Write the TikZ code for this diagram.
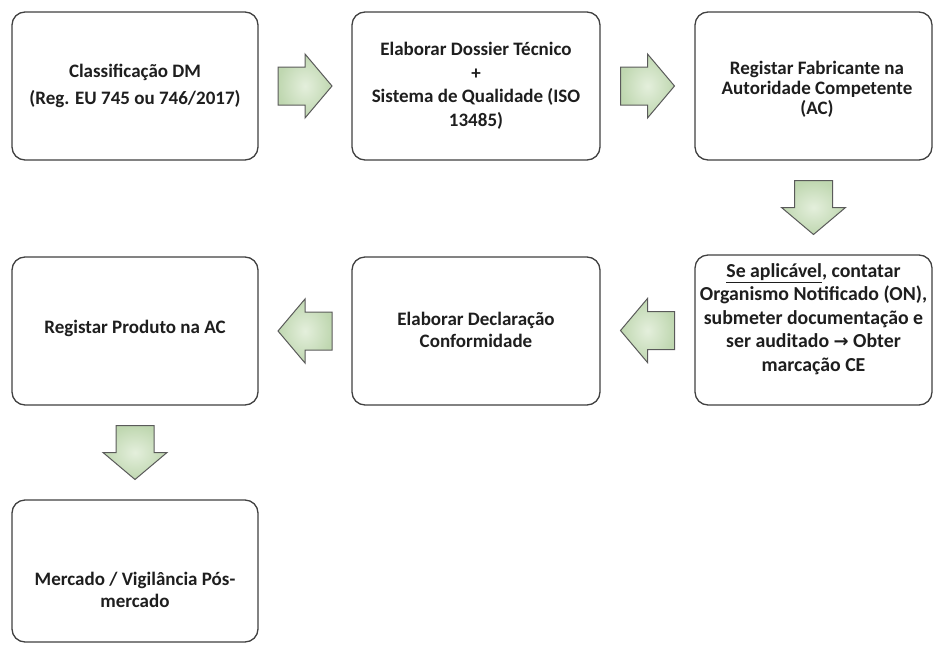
\documentclass[tikz,border=0pt]{standalone}
\usepackage{fontspec}
\setmainfont{Carlito}
\newfontfamily\symfont{DejaVu Sans}
\usetikzlibrary{calc}
\definecolor{boxline}{HTML}{404040}
\definecolor{arrline}{HTML}{5A5A5A}
\definecolor{arrfill}{HTML}{BFD7B0}
\definecolor{arrlight}{HTML}{E4EFDC}
\definecolor{txt}{HTML}{1E1E1E}
\tikzset{
  box/.style={draw=boxline, line width=1.3pt, rounded corners=13pt, fill=white, inner sep=0pt},
  lbl/.style={align=center, text=txt, font=\bfseries\fontsize{19}{23.5}\selectfont, inner sep=0pt},
  blockarrow/.pic={
    \path[draw=arrline, line width=1pt, inner color=arrlight, outer color=arrfill]
      (-27,-19) -- (0,-19) -- (0,-32) -- (27,0) -- (0,32) -- (0,19) -- (-27,19) -- cycle;
  }
}
\begin{document}
\begin{tikzpicture}[x=1pt,y=-1pt]
\useasboundingbox (0,0) rectangle (936,645);
% boxes
\node[box, minimum width=246pt, minimum height=148pt] (b1) at (135,86) {};
\node[box, minimum width=248pt, minimum height=148pt] (b2) at (476,86) {};
\node[box, minimum width=237pt, minimum height=148pt] (b3) at (813.5,86) {};
\node[box, minimum width=237pt, minimum height=150pt] (b4) at (813.5,330) {};
\node[box, minimum width=248pt, minimum height=148pt] (b5) at (476,331) {};
\node[box, minimum width=246pt, minimum height=148pt] (b6) at (135,331) {};
\node[box, minimum width=246pt, minimum height=142pt] (b7) at (135,571) {};
% texts
\node[lbl] (t1) at (135,86) {Classificação DM\\[3.5pt](Reg. EU 745 ou 746/2017)};
\node[lbl] (t2) at (476,86) {Elaborar Dossier Técnico\\+\\Sistema de Qualidade (ISO\\13485)};
\node[lbl, font=\bfseries\fontsize{19}{20}\selectfont] (t3) at (817,89) {Registar Fabricante na\\Autoridade Competente\\(AC)};
\node[lbl, font=\bfseries\fontsize{19.8}{23.5}\selectfont] (t4) at (813.5,319) {\underline{Se aplicável}, contatar\\Organismo Notificado (ON),\\submeter documentação e\\ser auditado {\symfont\bfseries\fontsize{18}{20}\selectfont →} Obter\\marcação CE};
\node[lbl, font=\bfseries\fontsize{19}{21.5}\selectfont] (t5) at (476,330) {Elaborar Declaração\\Conformidade};
\node[lbl] (t6) at (135,328) {Registar Produto na AC};
\node[lbl, font=\bfseries\fontsize{19}{21.5}\selectfont] (t7) at (135,590) {Mercado / Vigilância Pós-\\mercado};
% block arrows
\pic (a1) at ($(b1.east)!0.5!(b2.west)$) {blockarrow};
\pic (a2) at ($(b2.east)!0.5!(b3.west)$) {blockarrow};
\pic[rotate=-90] (a3) at ($(b3.south)!0.5!(b4.north)$) {blockarrow};
\pic[rotate=180] (a4) at ($(b4.west)!0.5!(b5.east)$) {blockarrow};
\pic[rotate=180] (a5) at ($(b5.west)!0.5!(b6.east)$) {blockarrow};
\pic[rotate=-90] (a6) at ($(b6.south)!0.5!(b7.north)$) {blockarrow};
\end{tikzpicture}
\end{document}
